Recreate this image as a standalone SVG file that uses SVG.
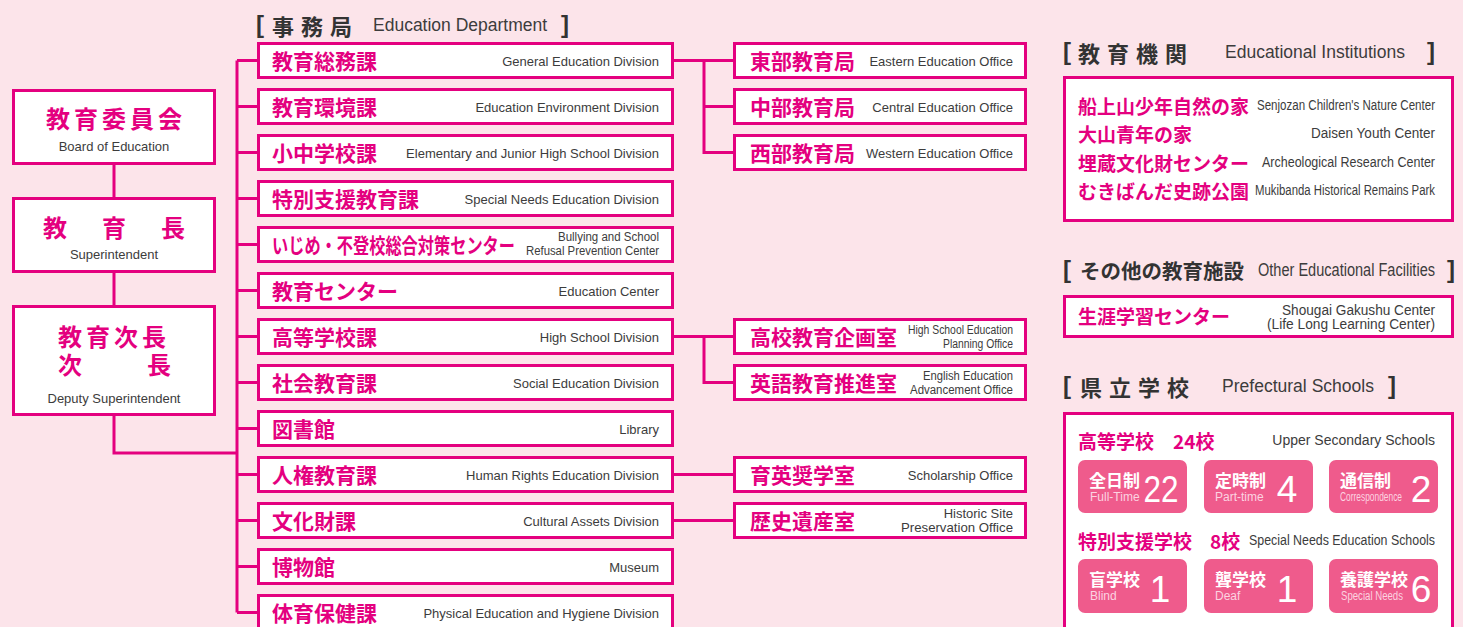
<svg xmlns="http://www.w3.org/2000/svg" width="1463" height="627" viewBox="0 0 1463 627">
<style>
.box{fill:#fff;stroke:#e4007f;stroke-width:3}
.ln{fill:none;stroke:#e4007f;stroke-width:3}
.jp{font-family:"Noto Sans CJK JP","Noto Sans CJK SC",sans-serif;font-weight:bold;fill:#e4007f;font-size:21px;dominant-baseline:central}
.jp19{font-family:"Noto Sans CJK JP","Noto Sans CJK SC",sans-serif;font-weight:bold;fill:#e4007f;font-size:19px;dominant-baseline:central}
.en{font-family:"Liberation Sans",Arial,sans-serif;font-size:13px;fill:#3c3c3c;text-anchor:end;dominant-baseline:central}
.en12{font-family:"Liberation Sans",Arial,sans-serif;font-size:12px;fill:#3c3c3c;text-anchor:end;dominant-baseline:central}
.en14{font-family:"Liberation Sans",Arial,sans-serif;font-size:14px;fill:#3c3c3c;text-anchor:end;dominant-baseline:central}
.enc{font-family:"Liberation Sans",Arial,sans-serif;font-size:13px;fill:#3c3c3c;text-anchor:middle;dominant-baseline:central}
.hd{font-family:"Noto Sans CJK JP","Noto Sans CJK SC",sans-serif;font-weight:bold;fill:#333;font-size:22px;letter-spacing:7px;dominant-baseline:central}
.hd2{font-family:"Noto Sans CJK JP","Noto Sans CJK SC",sans-serif;font-weight:bold;fill:#333;font-size:20.5px;dominant-baseline:central}
.hde{font-family:"Liberation Sans",Arial,sans-serif;font-size:17.5px;fill:#3c3c3c;dominant-baseline:central}
.br{font-family:"Liberation Sans",Arial,sans-serif;font-size:24px;font-weight:bold;fill:#333;dominant-baseline:central}
.tile{fill:#ef5b8c}
.tj{font-family:"Noto Sans CJK JP","Noto Sans CJK SC",sans-serif;font-weight:bold;fill:#fff;font-size:17px;dominant-baseline:central}
.te{font-family:"Liberation Sans",Arial,sans-serif;font-size:12px;fill:#fcd3e1;dominant-baseline:central}
.tn{font-family:"Liberation Sans",Arial,sans-serif;font-size:37px;fill:#fff;text-anchor:middle}
.lj{font-family:"Noto Sans CJK JP","Noto Sans CJK SC",sans-serif;font-weight:bold;fill:#e4007f;font-size:24px;dominant-baseline:central}
</style>
<rect x="0" y="0" width="1463" height="627" fill="#fce4ea"/>

<g id="connectors">
<path class="ln" d="M114 165V197M114 273V305M114 416V453H237"/>
<path class="ln" d="M237 60.5V612.5"/>
<path class="ln" d="M237 60.5H257M237 106.5H257M237 152.5H257M237 198.5H257M237 244.5H257M237 290.5H257M237 336.5H257M237 382.5H257M237 428.5H257M237 474.5H257M237 520.5H257M237 566.5H257M237 612.5H257"/>
<path class="ln" d="M674 60.5H733M704 60.5V152.5H733M704 106.5H733"/>
<path class="ln" d="M674 336.5H733M704 336.5V382.5H733"/>
<path class="ln" d="M674 474.5H733M674 520.5H733"/>
</g>

<g id="board">
<rect class="box" x="13.5" y="90.5" width="201" height="73"/>
<text class="lj" x="116" y="117" text-anchor="middle" letter-spacing="4">教育委員会</text>
<text class="enc" x="114" y="146">Board of Education</text>
</g>
<g id="superintendent">
<rect class="box" x="13.5" y="198.5" width="201" height="73"/>
<text class="lj" x="55" y="226" text-anchor="middle">教</text>
<text class="lj" x="114" y="226" text-anchor="middle">育</text>
<text class="lj" x="173" y="226" text-anchor="middle">長</text>
<text class="enc" x="114" y="254">Superintendent</text>
</g>
<g id="deputy">
<rect class="box" x="13.5" y="306.5" width="201" height="108"/>
<text class="lj" x="58" y="335" letter-spacing="4">教育次長</text>
<text class="lj" x="58" y="363">次</text>
<text class="lj" x="147" y="363">長</text>
<text class="enc" x="114" y="398">Deputy Superintendent</text>
</g>

<g id="header-jimukyoku">
<text class="br" x="256" y="24">[</text>
<text class="hd" x="272" y="25">事務局</text>
<text class="hde" x="373" y="25">Education Department</text>
<text class="br" x="561" y="24">]</text>
</g>

<g id="div1"><rect class="box" x="258.5" y="43.5" width="414" height="34"/><text class="jp" x="272" y="60">教育総務課</text><text class="en" x="659" y="61">General Education Division</text></g>
<g id="div2"><rect class="box" x="258.5" y="89.5" width="414" height="34"/><text class="jp" x="272" y="106">教育環境課</text><text class="en" x="659" y="107">Education Environment Division</text></g>
<g id="div3"><rect class="box" x="258.5" y="135.5" width="414" height="34"/><text class="jp" x="272" y="152">小中学校課</text><text class="en" x="659" y="153">Elementary and Junior High School Division</text></g>
<g id="div4"><rect class="box" x="258.5" y="181.5" width="414" height="34"/><text class="jp" x="272" y="198">特別支援教育課</text><text class="en" x="659" y="199">Special Needs Education Division</text></g>
<g id="div5"><rect class="box" x="258.5" y="227.5" width="414" height="34"/><text class="jp" x="272" y="244" textLength="243" lengthAdjust="spacingAndGlyphs">いじめ・不登校総合対策センター</text><text class="en12" x="659" y="237" textLength="101" lengthAdjust="spacingAndGlyphs">Bullying and School</text><text class="en12" x="659" y="251" textLength="133" lengthAdjust="spacingAndGlyphs">Refusal Prevention Center</text></g>
<g id="div6"><rect class="box" x="258.5" y="273.5" width="414" height="34"/><text class="jp" x="272" y="290">教育センター</text><text class="en" x="659" y="291">Education Center</text></g>
<g id="div7"><rect class="box" x="258.5" y="319.5" width="414" height="34"/><text class="jp" x="272" y="336">高等学校課</text><text class="en" x="659" y="337">High School Division</text></g>
<g id="div8"><rect class="box" x="258.5" y="365.5" width="414" height="34"/><text class="jp" x="272" y="382">社会教育課</text><text class="en" x="659" y="383">Social Education Division</text></g>
<g id="div9"><rect class="box" x="258.5" y="411.5" width="414" height="34"/><text class="jp" x="272" y="428">図書館</text><text class="en" x="659" y="429">Library</text></g>
<g id="div10"><rect class="box" x="258.5" y="457.5" width="414" height="34"/><text class="jp" x="272" y="474">人権教育課</text><text class="en" x="659" y="475">Human Rights Education Division</text></g>
<g id="div11"><rect class="box" x="258.5" y="503.5" width="414" height="34"/><text class="jp" x="272" y="520">文化財課</text><text class="en" x="659" y="521">Cultural Assets Division</text></g>
<g id="div12"><rect class="box" x="258.5" y="549.5" width="414" height="34"/><text class="jp" x="272" y="566">博物館</text><text class="en" x="659" y="567">Museum</text></g>
<g id="div13"><rect class="box" x="258.5" y="595.5" width="414" height="34"/><text class="jp" x="272" y="612">体育保健課</text><text class="en" x="659" y="613">Physical Education and Hygiene Division</text></g>

<g id="off1"><rect class="box" x="734.5" y="43.5" width="291" height="34"/><text class="jp" x="750" y="60">東部教育局</text><text class="en" x="1013" y="61">Eastern Education Office</text></g>
<g id="off2"><rect class="box" x="734.5" y="89.5" width="291" height="34"/><text class="jp" x="750" y="106">中部教育局</text><text class="en" x="1013" y="107">Central Education Office</text></g>
<g id="off3"><rect class="box" x="734.5" y="135.5" width="291" height="34"/><text class="jp" x="750" y="152">西部教育局</text><text class="en" x="1013" y="153">Western Education Office</text></g>
<g id="off4"><rect class="box" x="734.5" y="319.5" width="291" height="34"/><text class="jp" x="750" y="336">高校教育企画室</text><text class="en12" x="1013" y="330" textLength="105" lengthAdjust="spacingAndGlyphs">High School Education</text><text class="en12" x="1013" y="344" textLength="70" lengthAdjust="spacingAndGlyphs">Planning Office</text></g>
<g id="off5"><rect class="box" x="734.5" y="365.5" width="291" height="34"/><text class="jp" x="750" y="382">英語教育推進室</text><text class="en12" x="1013" y="376" textLength="90" lengthAdjust="spacingAndGlyphs">English Education</text><text class="en12" x="1013" y="390" textLength="103" lengthAdjust="spacingAndGlyphs">Advancement Office</text></g>
<g id="off6"><rect class="box" x="734.5" y="457.5" width="291" height="34"/><text class="jp" x="750" y="474">育英奨学室</text><text class="en" x="1013" y="475">Scholarship Office</text></g>
<g id="off7"><rect class="box" x="734.5" y="503.5" width="291" height="34"/><text class="jp" x="750" y="520">歴史遺産室</text><text class="en" x="1013" y="513">Historic Site</text><text class="en" x="1013" y="527" textLength="112" lengthAdjust="spacingAndGlyphs">Preservation Office</text></g>

<g id="institutions">
<text class="br" x="1063" y="51">[</text>
<text class="hd" x="1078" y="52">教育機関</text>
<text class="hde" x="1225" y="52">Educational Institutions</text>
<text class="br" x="1427" y="51">]</text>
<rect class="box" x="1064.5" y="77.5" width="388" height="143"/>
<text class="jp19" x="1078" y="105">船上山少年自然の家</text>
<text class="en14" x="1435" y="105" textLength="178" lengthAdjust="spacingAndGlyphs">Senjozan Children's Nature Center</text>
<text class="jp19" x="1078" y="133">大山青年の家</text>
<text class="en14" x="1435" y="133" textLength="124" lengthAdjust="spacingAndGlyphs">Daisen Youth Center</text>
<text class="jp19" x="1078" y="162">埋蔵文化財センター</text>
<text class="en14" x="1435" y="162" textLength="173" lengthAdjust="spacingAndGlyphs">Archeological Research Center</text>
<text class="jp19" x="1078" y="190">むきばんだ史跡公園</text>
<text class="en14" x="1435" y="190" textLength="180" lengthAdjust="spacingAndGlyphs">Mukibanda Historical Remains Park</text>
</g>

<g id="other-facilities">
<text class="br" x="1063" y="269">[</text>
<text class="hd2" x="1080" y="270">その他の教育施設</text>
<text class="hde" x="1258" y="270" textLength="177" lengthAdjust="spacingAndGlyphs">Other Educational Facilities</text>
<text class="br" x="1447" y="269">]</text>
<rect class="box" x="1064.5" y="296.5" width="388" height="40"/>
<text class="jp19" x="1078" y="315">生涯学習センター</text>
<text class="en14" x="1435" y="310" textLength="153" lengthAdjust="spacingAndGlyphs">Shougai Gakushu Center</text>
<text class="en14" x="1435" y="324" textLength="168" lengthAdjust="spacingAndGlyphs">(Life Long Learning Center)</text>
</g>

<g id="prefectural-schools">
<text class="br" x="1063" y="385">[</text>
<text class="hd" x="1080" y="386">県立学校</text>
<text class="hde" x="1222" y="386" textLength="152" lengthAdjust="spacingAndGlyphs">Prefectural Schools</text>
<text class="br" x="1388" y="385">]</text>
<rect class="box" x="1064.5" y="413.5" width="388" height="230"/>
<text class="jp19" x="1078" y="440">高等学校</text>
<text class="jp19" x="1173" y="440">24校</text>
<text class="en14" x="1435" y="440">Upper Secondary Schools</text>

<rect class="tile" x="1078" y="460" width="109" height="53" rx="7"/>
<text class="tj" x="1089" y="479">全日制</text>
<text class="te" x="1090" y="497">Full-Time</text>
<text class="tn" x="1161" y="502" textLength="35" lengthAdjust="spacingAndGlyphs">22</text>
<rect class="tile" x="1204" y="460" width="109" height="53" rx="7"/>
<text class="tj" x="1215" y="479">定時制</text>
<text class="te" x="1215" y="497">Part-time</text>
<text class="tn" x="1287" y="502">4</text>
<rect class="tile" x="1329" y="460" width="109" height="53" rx="7"/>
<text class="tj" x="1340" y="479">通信制</text>
<text class="te" x="1340" y="497" textLength="62" lengthAdjust="spacingAndGlyphs">Correspondence</text>
<text class="tn" x="1421" y="502">2</text>

<text class="jp19" x="1078" y="540">特別支援学校</text>
<text class="jp19" x="1210" y="540">8校</text>
<text class="en14" x="1435" y="540" textLength="186" lengthAdjust="spacingAndGlyphs">Special Needs Education Schools</text>

<rect class="tile" x="1078" y="559" width="109" height="54" rx="7"/>
<text class="tj" x="1089" y="578">盲学校</text>
<text class="te" x="1090" y="596">Blind</text>
<text class="tn" x="1160" y="602">1</text>
<rect class="tile" x="1204" y="559" width="109" height="54" rx="7"/>
<text class="tj" x="1215" y="578">聾学校</text>
<text class="te" x="1215" y="596">Deaf</text>
<text class="tn" x="1287" y="602">1</text>
<rect class="tile" x="1329" y="559" width="109" height="54" rx="7"/>
<text class="tj" x="1340" y="578">養護学校</text>
<text class="te" x="1341" y="596" textLength="62" lengthAdjust="spacingAndGlyphs">Special Needs</text>
<text class="tn" x="1421" y="602">6</text>
</g>
</svg>
